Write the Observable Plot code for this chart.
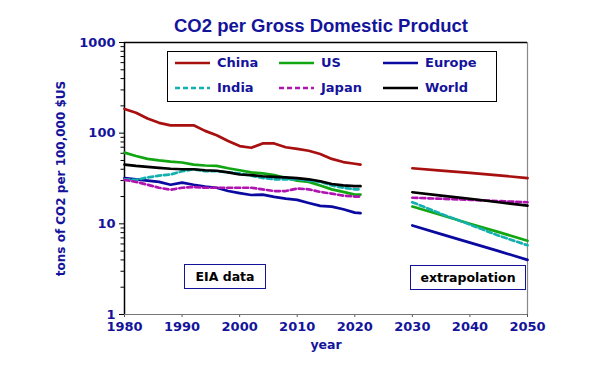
<!DOCTYPE html>
<html>
<head>
<meta charset="utf-8">
<script src="https://cdn.jsdelivr.net/npm/d3@7"></script>
<script src="https://cdn.jsdelivr.net/npm/@observablehq/plot@0.6"></script>
<style>
  html, body { margin: 0; padding: 0; background: #fff; }
  #wrap { position: relative; width: 600px; height: 369px; font-family: "DejaVu Sans", sans-serif; font-weight: bold; }
  .legend { position: absolute; left: 167px; top: 51px; width: 330px; height: 51px; border: 1.5px solid #000; box-sizing: border-box; }
  .item { position: absolute; height: 16px; }
  .item svg { position: absolute; left: 0; top: 6px; }
  .item span { position: absolute; left: 42px; top: 0; font-size: 13px; color: #14149b; white-space: nowrap; line-height: 16px; }
  .note { position: absolute; border: 1.2px solid #14149b; box-sizing: border-box; font-size: 12.5px; color: #000; text-align: center; line-height: 23px; }
</style>
</head>
<body>
<div id="wrap"></div>
<script>
// ---------- data ----------
const title = "CO2 per Gross Domestic Product";
const yLabel = "tons of CO2 per 100,000 $US";
const xLabel = "year";
const noteLabels = ["EIA data", "extrapolation"];

const seriesNames = ["China", "US", "Europe", "India", "Japan", "World"];
const seriesColors = ["#a80f0f", "#12a612", "#0a0aa0", "#14b0b0", "#b014b0", "#000000"];
const seriesDashed = [false, false, false, true, true, false];

const histYears = [1980, 1982, 1984, 1986, 1988, 1990, 1992, 1994, 1996, 1998, 2000, 2002, 2004, 2006, 2008, 2010, 2012, 2014, 2016, 2018, 2020, 2021];
const chinaHist  = [185, 168, 145, 130, 122, 122, 122, 106, 95, 82, 72, 69, 77, 77, 70, 67, 64, 59, 52, 48, 46, 45];
const usHist     = [61, 56, 52, 50, 48.5, 47.5, 45, 44, 43.5, 41, 39, 37, 36, 34.5, 32, 30, 29, 26.5, 24, 22.5, 21, 21];
const europeHist = [32, 31, 30, 29, 27, 28.5, 27, 25.8, 25, 23, 21.8, 20.8, 21, 19.8, 19, 18.4, 17, 15.8, 15.5, 14.5, 13.3, 13.1];
const indiaHist  = [31, 30.5, 32.5, 34, 35, 38, 40, 38, 38, 37, 36, 34, 32, 31, 31, 31, 30, 29, 26.5, 25, 24, 24];
const japanHist  = [30.5, 29, 27, 25, 23.8, 25, 25.5, 25, 25, 25, 25, 25, 24, 23, 23, 24.5, 24, 22.5, 21.5, 20.5, 20, 20];
const worldHist  = [45, 43.5, 42.5, 41.5, 40.5, 40, 40, 39, 38.5, 37, 35, 34.5, 33.5, 33, 32.5, 32, 31, 29.5, 27.5, 26.5, 26, 26];

const extYears = [2030, 2035, 2040, 2045, 2050];
const chinaExt  = [41, 38.7, 36.5, 34.2, 32];
const usExt     = [15.5, 12.5, 10.0, 8.1, 6.5];
const europeExt = [9.6, 7.7, 6.2, 5.0, 4.0];
const indiaExt  = [17.3, 12.9, 9.8, 7.4, 5.8];
const japanExt  = [19.4, 18.9, 18.4, 17.8, 17.3];
const worldExt  = [22.3, 20.5, 18.9, 17.3, 15.9];

const xDomain = [1980, 2050];
const xTicks = [1980, 1990, 2000, 2010, 2020, 2030, 2040, 2050];
const yDomain = [1, 1000];
const yMajorTicks = [1, 10, 100, 1000];
const yMinorTicks = [2,3,4,5,6,7,8,9,20,30,40,50,60,70,80,90,200,300,400,500,600,700,800,900];

// ---------- build table ----------
const histVals = [chinaHist, usHist, europeHist, indiaHist, japanHist, worldHist];
const extVals = [chinaExt, usExt, europeExt, indiaExt, japanExt, worldExt];
const rows = [];
seriesNames.forEach((name, i) => {
  histYears.forEach((yr, j) => rows.push({name, seg: "hist", key: name + "-hist", year: yr, value: histVals[i][j]}));
  extYears.forEach((yr, j) => rows.push({name, seg: "ext", key: name + "-ext", year: yr, value: extVals[i][j]}));
});

const navy = "#14149b";

const lineMarks = seriesNames.map((name, i) =>
  Plot.line(rows.filter(d => d.name === name), {
    x: "year", y: "value", z: "key",
    stroke: seriesColors[i], strokeWidth: 2.7,
    strokeDasharray: seriesDashed[i] ? "5,3" : null,
    curve: "linear"
  })
);

const chart = Plot.plot({
  width: 600,
  height: 369,
  marginLeft: 124,
  marginRight: 73,
  marginTop: 42,
  marginBottom: 55,
  style: { fontFamily: "DejaVu Sans, sans-serif", fontWeight: "bold", fontSize: "13px", background: "transparent", color: navy },
  x: { domain: xDomain },
  y: { type: "log", domain: yDomain },
  marks: [
    Plot.axisY({ ticks: yMinorTicks, tickSize: 3.5, tickFormat: () => "", stroke: "#000", label: null }),
    Plot.axisY({ ticks: yMajorTicks, tickSize: 5, tickPadding: 4, tickFormat: d => String(d), stroke: "#000", fill: navy, fontSize: 13, label: null }),
    Plot.axisX({ ticks: xTicks, tickSize: 3, tickPadding: 4.5, tickFormat: d => String(d), stroke: "#555", fill: navy, fontSize: 13, label: null }),
    Plot.ruleY([yDomain[0]], { stroke: "#777", strokeWidth: 1.2 }),
    Plot.ruleX([xDomain[1]], { stroke: "#888", strokeWidth: 1.2 }),
    Plot.ruleY([yDomain[1]], { stroke: "#000", strokeWidth: 1.5 }),
    Plot.ruleX([xDomain[0]], { stroke: "#000", strokeWidth: 1.5 }),
    ...lineMarks,
    Plot.text([title], { frameAnchor: "top", lineAnchor: "middle", dx: -5, dy: -16, fontSize: 18.5, fontFamily: "Liberation Sans, Arial, sans-serif", fontWeight: "bold", fill: navy }),
    Plot.text([yLabel], { frameAnchor: "left", textAnchor: "middle", lineAnchor: "middle", dx: -63, rotate: -90, fontSize: 12, fill: navy }),
    Plot.text([xLabel], { frameAnchor: "bottom", lineAnchor: "middle", dy: 30, fontSize: 12.5, fill: navy })
  ]
});

const wrap = document.getElementById("wrap");
chart.style.position = "absolute";
chart.style.left = "0";
chart.style.top = "0";
wrap.appendChild(chart);

// ---------- legend overlay ----------
const legend = document.createElement("div");
legend.className = "legend";
const colX = [7, 111, 215];
const rowY = [3, 28];
seriesNames.forEach((name, i) => {
  const it = document.createElement("div");
  it.className = "item";
  it.style.left = colX[i % 3] + "px";
  it.style.top = rowY[Math.floor(i / 3)] + "px";
  const dash = seriesDashed[i] ? ' stroke-dasharray="5,3"' : "";
  it.innerHTML = `<svg width="36" height="4"><line x1="0" y1="2" x2="35" y2="2" stroke="${seriesColors[i]}" stroke-width="2.6"${dash}/></svg><span>${name}</span>`;
  legend.appendChild(it);
});
wrap.appendChild(legend);

// ---------- annotation boxes ----------
const noteBoxes = [
  { left: 184, top: 264, width: 82, height: 25 },
  { left: 410, top: 265, width: 116, height: 25 }
];
noteLabels.forEach((t, i) => {
  const b = document.createElement("div");
  b.className = "note";
  Object.assign(b.style, { left: noteBoxes[i].left + "px", top: noteBoxes[i].top + "px", width: noteBoxes[i].width + "px", height: noteBoxes[i].height + "px" });
  b.textContent = t;
  wrap.appendChild(b);
});
</script>
</body>
</html>
